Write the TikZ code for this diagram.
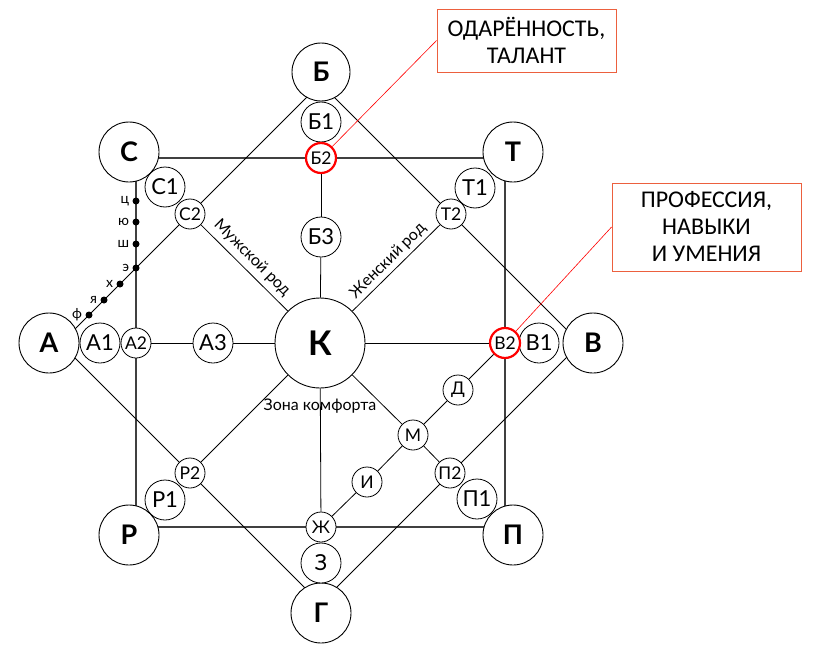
\documentclass[tikz,border=0pt]{standalone}
\usepackage{fontspec}
\setmainfont{Lato}
\newfontfamily\calib{Carlito}
\definecolor{calloutc}{RGB}{236,96,62}
\tikzset{
 big/.style={circle,draw,fill=white,minimum size=60pt,inner sep=0pt,line width=0.9pt,font=\fontsize{27}{27}\selectfont\bfseries},
 mid/.style={circle,draw,fill=white,minimum size=40pt,inner sep=0pt,line width=0.8pt,font=\fontsize{22}{22}\selectfont},
 sml/.style={circle,draw,fill=white,minimum size=30pt,inner sep=0pt,line width=0.8pt,font=\fontsize{17.5}{17.5}\selectfont},
 hot/.style={draw=red,line width=2.2pt},
 ln/.style={line width=0.8pt},
 sq/.style={draw=black!75,line width=1.1pt},
 dot/.style={circle,fill=black,minimum size=7pt,inner sep=0pt},
 dotlab/.style={font=\fontsize{14}{14}\selectfont,inner sep=1pt},
 tag/.style={font=\fontsize{16}{16}\selectfont,inner sep=0pt},
 callout/.style={draw=calloutc,line width=0.9pt,align=center,inner sep=0pt,font=\calib\fontsize{24}{27}\selectfont},
 redln/.style={draw=red,line width=0.6pt}
}
\begin{document}
\begin{tikzpicture}[x=1pt,y=-1pt]
\useasboundingbox (0,0) rectangle (816,661);
% square corners
\coordinate (q1) at (136,158);
\coordinate (q2) at (505,158);
\coordinate (q3) at (505,527);
\coordinate (q4) at (136,527);
% diamond vertices
\coordinate (d1) at (320.5,83.5);
\coordinate (d2) at (60.5,343.5);
\coordinate (d3) at (320.5,603.5);
\coordinate (d4) at (580.5,343.5);
\draw[sq] (q1) -- (q2) -- (q3) -- (q4) -- cycle;
\draw[ln] (d1) -- (d2) -- (d3) -- (d4) -- cycle;
% big nodes
\node[big,minimum size=90pt,font=\fontsize{34}{34}\selectfont\bfseries] (k) at (320,343) {К};
\node[big,minimum size=58pt] (b) at (321,72) {Б};
\node[big] (t) at (513,152) {Т};
\node[big] (v) at (593,343) {В};
\node[big] (p) at (513,535) {П};
\node[big] (g) at (321,613) {Г};
\node[big] (r) at (129,535) {Р};
\node[big] (a) at (49,343) {А};
\node[big] (s) at (129,152) {С};
% mid nodes
\node[mid] (b1) at (321,122) {Б1};
\node[mid] (b3) at (321,237) {Б3};
\node[mid] (s1) at (165,187) {С1};
\node[mid] (t1) at (475,188) {Т1};
\node[mid] (a1) at (100,343) {А1};
\node[mid] (a3) at (213,343) {А3};
\node[mid] (v1) at (539,343) {В1};
\node[mid] (r1) at (165,500) {Р1};
\node[mid] (p1) at (477,499) {П1};
\node[mid] (z) at (321,563) {З};
% small nodes
\node[sml,hot] (b2) at (321,158) {Б2};
\node[sml,hot] (v2) at (505,343) {В2};
\node[sml] (s2) at (190,214) {С2};
\node[sml] (t2) at (451,214) {Т2};
\node[sml] (a2) at (136,343) {А2};
\node[sml] (r2) at (190,473) {Р2};
\node[sml] (p2) at (450,473) {П2};
\node[sml] (d) at (458,390) {Д};
\node[sml] (m) at (413,435) {М};
\node[sml] (i) at (367,482) {И};
\node[sml] (zh) at (321,527) {Ж};
% connectors
\draw[ln] (b2) -- (b3);
\draw[ln] (b3) -- (k);
\draw[ln] (a2) -- (a3);
\draw[ln] (a3) -- (k);
\draw[ln] (k) -- (v2);
\draw[ln] (k) -- (zh);
\draw[ln] (k) -- (s2);
\draw[ln] (k) -- (t2);
\draw[ln] (k) -- (r2);
\draw[ln] (k) -- (m);
\draw[ln] (m) -- (p2);
\draw[ln] (v2) -- (d);
\draw[ln] (d) -- (m);
\draw[ln] (m) -- (i);
\draw[ln] (i) -- (zh);
% texts on lines
\node[tag,rotate=-45] (mr) at (252,258) {Мужской род};
\node[tag,rotate=45] (zr) at (388,261) {Женский род};
\node[tag] (zk) at (320,406) {Зона комфорта};
% dots
\node[dot,label={[dotlab,label distance=2pt]180:ц}] (c1) at (136,201) {};
\node[dot,label={[dotlab,label distance=2pt]180:ю}] (c2) at (136,222) {};
\node[dot,label={[dotlab,label distance=2pt]180:ш}] (c3) at (136,244) {};
\node[dot,label={[dotlab,label distance=2pt]180:э}] (c4) at (136,268) {};
\node[dot,label={[dotlab,label distance=2pt]180:х}] (c5) at (120,284) {};
\node[dot,label={[dotlab,label distance=2pt]180:я}] (c6) at (104,300) {};
\node[dot,label={[dotlab,label distance=2pt]180:ф}] (c7) at (89,315) {};
% callouts
\node[callout,minimum width=179pt,minimum height=63pt] (box1) at (526.5,40.5) {ОДАРЁННОСТЬ,\\ТАЛАНТ};
\node[callout,minimum width=189pt,minimum height=88pt] (box2) at (706.5,227) {ПРОФЕССИЯ,\\НАВЫКИ\\И УМЕНИЯ};
\draw[redln] (b2) -- (box1.west);
\draw[redln] (v2) -- (box2.west);
\end{tikzpicture}
\end{document}
